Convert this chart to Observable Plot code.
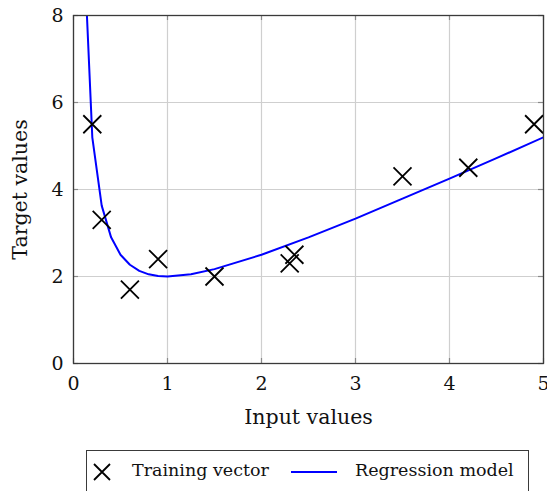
<!DOCTYPE html>
<html>
<head>
<meta charset="utf-8">
<script src="https://cdn.jsdelivr.net/npm/d3@7"></script>
<script src="https://cdn.jsdelivr.net/npm/@observablehq/plot@0.6"></script>
<style>
  html, body { margin: 0; padding: 0; background: #fff; }
  #wrap { position: relative; width: 547px; height: 491px; overflow: hidden; font-family: "DejaVu Serif", serif; }
  #wrap svg { overflow: visible; }
  .legend { position: absolute; left: 86px; top: 450px; width: 443px; height: 60px; border: 1px solid #3a3a3a; box-sizing: border-box; background: #fff; }
  .legend .item { position: absolute; top: 9px; font-size: 17.5px; color: #111; white-space: nowrap; }
</style>
</head>
<body>
<div id="wrap"></div>
<script>
// Training samples
const trainX = [0.2, 0.3, 0.6, 0.9, 1.5, 2.3, 2.35, 3.5, 4.2, 4.9];
const trainY = [5.5, 3.3, 1.7, 2.4, 2.0, 2.3, 2.5, 4.3, 4.5, 5.5];

// Fitted regression curve, sampled points
const modelX = [0.1, 0.2, 0.3, 0.4, 0.5, 0.6, 0.7, 0.8, 0.9, 1.0, 1.25, 1.5, 2, 2.5, 3, 3.5, 4, 4.5, 5];
const modelY = [10.1, 5.2, 3.63, 2.9, 2.5, 2.27, 2.13, 2.05, 2.01, 2.0, 2.05, 2.17, 2.5, 2.9, 3.33, 3.79, 4.25, 4.72, 5.2];

// Axis ticks
const xTicks = [0, 1, 2, 3, 4, 5];
const yTicks = [0, 2, 4, 6, 8];

const train = trainX.map((x, i) => ({x, y: trainY[i]}));
const model = modelX.map((x, i) => ({x, y: modelY[i]}));

const W = 547, H = 440;
const mTop = 15, mLeft = 73, mRight = 4, mBottom = H - 363;
const plotW = W - mLeft - mRight, plotH = H - mTop - mBottom;
const tickLen = 5;

// "x" shaped marker
const cross = {
  draw(ctx, size) {
    const h = Math.sqrt(size / Math.PI);
    ctx.moveTo(-h, -h); ctx.lineTo(h, h);
    ctx.moveTo(h, -h); ctx.lineTo(-h, h);
  }
};

const chart = Plot.plot({
  width: W,
  height: H,
  marginTop: mTop,
  marginLeft: mLeft,
  marginRight: mRight,
  marginBottom: mBottom,
  style: {fontFamily: "DejaVu Serif, serif", fontSize: "18px", color: "#111", background: "#fff", overflow: "visible"},
  x: {domain: [0, 5], axis: null},
  y: {domain: [0, 8], axis: null},
  marks: [
    Plot.gridX(xTicks, {stroke: "#cfcfcf", strokeOpacity: 1, strokeWidth: 1.2}),
    Plot.gridY(yTicks, {stroke: "#cfcfcf", strokeOpacity: 1, strokeWidth: 1.2}),
    // inward tick marks on all four sides
    Plot.tickX(xTicks, {x: d => d, insetTop: plotH - tickLen, stroke: "#8a8a8a", strokeWidth: 1.2}),
    Plot.tickX(xTicks, {x: d => d, insetBottom: plotH - tickLen, stroke: "#8a8a8a", strokeWidth: 1.2}),
    Plot.tickY(yTicks, {y: d => d, insetRight: plotW - tickLen, stroke: "#8a8a8a", strokeWidth: 1.2}),
    Plot.tickY(yTicks, {y: d => d, insetLeft: plotW - tickLen, stroke: "#8a8a8a", strokeWidth: 1.2}),
    Plot.axisX(xTicks, {anchor: "bottom", tickSize: 0, tickPadding: 13, label: null, fontSize: 19}),
    Plot.axisY(yTicks, {anchor: "left", tickSize: 0, tickPadding: 10, label: null, fontSize: 19}),
    Plot.text(["Input values"], {frameAnchor: "bottom", dy: 60, fontSize: 20.5, fill: "#111"}),
    Plot.text(["Target values"], {frameAnchor: "left", textAnchor: "middle", dx: -53, rotate: -90, fontSize: 20.5, fill: "#111"}),
    Plot.line(model, {x: "x", y: "y", stroke: "#0000ff", strokeWidth: 2, clip: true}),
    Plot.dot(train, {x: "x", y: "y", symbol: cross, r: 9, stroke: "#000", strokeWidth: 1.8}),
    Plot.frame({stroke: "#3a3a3a", strokeWidth: 1.3})
  ]
});

const wrap = document.getElementById("wrap");
wrap.appendChild(chart);

// Legend below the plot
const legend = document.createElement("div");
legend.className = "legend";
legend.innerHTML = `
  <svg style="position:absolute;left:5px;top:11px" width="20" height="20" viewBox="-10 -10 20 20">
    <path d="M-8,-8L8,8M8,-8L-8,8" stroke="#000" stroke-width="1.8" fill="none"/>
  </svg>
  <span class="item" style="left:45px">Training vector</span>
  <svg style="position:absolute;left:204px;top:19px" width="46" height="4">
    <line x1="0" y1="2" x2="46" y2="2" stroke="#0000ff" stroke-width="2"/>
  </svg>
  <span class="item" style="left:268px">Regression model</span>
`;
wrap.appendChild(legend);
</script>
</body>
</html>
